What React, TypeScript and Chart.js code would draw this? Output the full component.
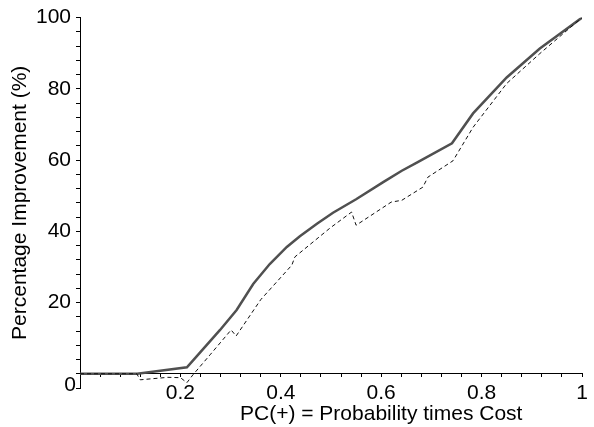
import React, { useEffect, useRef } from 'react';
import { Chart, registerables } from 'chart.js';

Chart.register(...registerables);

// Solid curve
const solidX = [0, 0.114, 0.213, 0.235, 0.279, 0.312, 0.345, 0.378, 0.412, 0.438, 0.472, 0.504, 0.55, 0.604, 0.641, 0.671, 0.741, 0.783, 0.85, 0.916, 1];
const solidY = [0, 0, 1.8, 5.3, 12.3, 17.9, 25.2, 30.8, 35.6, 38.6, 42.1, 45.2, 49.0, 53.8, 57.0, 59.3, 64.7, 73.1, 83.2, 91.3, 100];

// Dashed curve
const dashedX = [0, 0.113, 0.12, 0.175, 0.2, 0.213, 0.225, 0.259, 0.301, 0.311, 0.36, 0.422, 0.428, 0.498, 0.541, 0.55, 0.62, 0.641, 0.683, 0.693, 0.743, 0.783, 0.85, 0.916, 0.97, 1];
const dashedY = [0, 0, -1.7, -1.0, -1.1, -2.5, -0.3, 5.3, 12.3, 10.6, 20.8, 30.5, 32.8, 40.9, 45.4, 41.7, 48.2, 48.7, 52.4, 55.2, 59.8, 69.2, 81.5, 89.9, 96.4, 100];

const xTickLabels = ['0.2', '0.4', '0.6', '0.8', '1'];
const yTickLabels = ['20', '40', '60', '80', '100'];
const originLabel = '0';
const xTitle = 'PC(+) = Probability times Cost';
const yTitle = 'Percentage Improvement (%)';

const FONT = "'Liberation Sans', Arial, Helvetica, sans-serif";
const FONT_SIZE = 21;

export default function App() {
  const ref = useRef<HTMLCanvasElement>(null);

  useEffect(() => {
    const canvas = ref.current;
    if (!canvas) return;

    const textPlugin = {
      id: 'extraText',
      afterDraw(chart: any) {
        const { ctx, scales } = chart;
        const x = scales.x;
        const y = scales.y;
        ctx.save();
        ctx.fillStyle = '#000';
        ctx.font = `${FONT_SIZE}px ${FONT}`;
        ctx.textBaseline = 'middle';
        ctx.textAlign = 'right';
        ctx.fillText(originLabel, x.getPixelForValue(0) - 4, y.getPixelForValue(0) + 11);
        ctx.textAlign = 'center';
        ctx.fillText(xTitle, x.getPixelForValue(0.6), y.getPixelForValue(0) + 40);
        ctx.restore();
      },
    };

    const chart = new Chart(canvas, {
      type: 'line',
      data: {
        datasets: [
          {
            label: 'dashed',
            data: dashedX.map((v, i) => ({ x: v, y: dashedY[i] })),
            borderColor: '#111',
            borderWidth: 1,
            borderDash: [4, 3],
            pointRadius: 0,
            tension: 0,
            fill: false,
          },
          {
            label: 'solid',
            data: solidX.map((v, i) => ({ x: v, y: solidY[i] })),
            borderColor: '#505050',
            borderWidth: 2.5,
            pointRadius: 0,
            tension: 0,
            fill: false,
          },
        ],
      },
      options: {
        responsive: false,
        animation: false,
        devicePixelRatio: 1,
        layout: { padding: { left: 0, top: 17, right: 12, bottom: 39 } },
        plugins: { legend: { display: false }, tooltip: { enabled: false } },
        scales: {
          x: {
            type: 'linear',
            min: 0,
            max: 1,
            position: { y: 0 } as any,
            grid: { drawOnChartArea: false, drawTicks: true, tickLength: 3, color: '#000' },
            border: { display: true, color: '#000', width: 1 },
            ticks: {
              stepSize: 0.04,
              autoSkip: false,
              maxRotation: 0,
              color: '#000',
              padding: 4,
              font: { family: FONT, size: FONT_SIZE },
              callback: (v: any) => {
                const r = Math.round(Number(v) * 100);
                if (r !== 0 && r % 20 === 0) return xTickLabels[r / 20 - 1];
                return '';
              },
            },
          },
          y: {
            type: 'linear',
            min: -4,
            max: 100,
            position: 'left',
            grid: { drawOnChartArea: false, drawTicks: true, tickLength: 4, color: '#000' },
            border: { display: true, color: '#000', width: 1 },
            ticks: {
              stepSize: 4,
              autoSkip: false,
              color: '#000',
              padding: 5,
              font: { family: FONT, size: FONT_SIZE },
              callback: (v: any) => {
                const r = Math.round(Number(v));
                if (r > 0 && r % 20 === 0) return yTickLabels[r / 20 - 1];
                return '';
              },
            },
            title: {
              display: true,
              text: yTitle,
              color: '#000',
              font: { family: FONT, size: FONT_SIZE },
              padding: { top: 8, bottom: 0 },
            },
            afterFit: (s: any) => {
              s.width = 80;
            },
          },
        },
      },
      plugins: [textPlugin],
    });

    return () => chart.destroy();
  }, []);

  return (
    <div style={{ position: 'absolute', left: 0, top: 0, width: 594, height: 427, background: '#fff' }}>
      <canvas ref={ref} width={594} height={427} style={{ display: 'block' }} />
    </div>
  );
}
